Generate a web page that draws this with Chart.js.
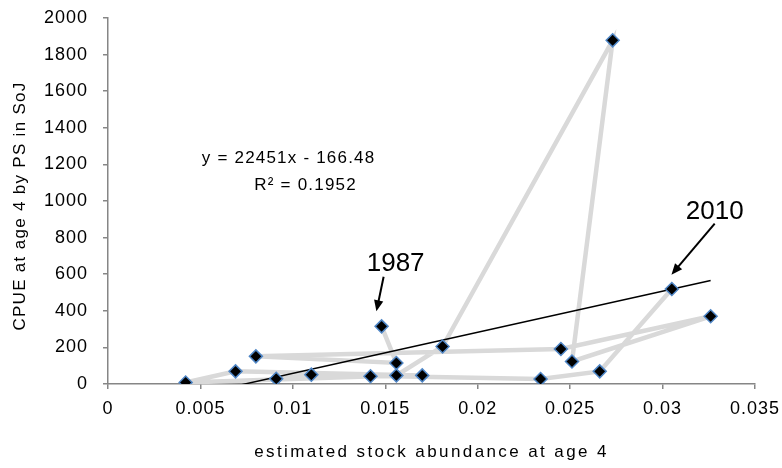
<!DOCTYPE html>
<html>
<head>
<meta charset="utf-8">
<script src="https://cdn.jsdelivr.net/npm/chart.js@4.4.1/dist/chart.umd.min.js"></script>
<style>
  html, body { margin: 0; padding: 0; background: #fff; }
  #wrap { width: 782px; height: 468px; position: relative; }
</style>
</head>
<body>
<div id="wrap"><canvas id="grafico"></canvas></div>
<script>
// pontos em ordem cronológica (1987 -> 2010)
const abundancia = [0.0148, 0.0156, 0.0080, 0.0245, 0.0326, 0.0251, 0.0273, 0.0181, 0.0156,
                    0.0042, 0.0069, 0.0170, 0.0142, 0.0091, 0.0110, 0.0234, 0.0266, 0.0305];
const cpue       = [315, 115, 151, 191, 370, 123, 1878, 205, 47,
                    8, 69, 47, 42, 29, 51, 27, 69, 519];

// linha de tendência (extremos)
const tendenciaX = [0.0042, 0.0326];
const tendenciaY = [-72, 566];

const ticksX = [0, 0.005, 0.01, 0.015, 0.02, 0.025, 0.03, 0.035];
const ticksY = [0, 200, 400, 600, 800, 1000, 1200, 1400, 1600, 1800, 2000];

const tituloX = 'estimated stock abundance at age 4';
const tituloY = 'CPUE at age 4 by PS in SoJ';
const equacao = ['y = 22451x - 166.48', 'R² = 0.1952'];
const rotulosAno = ['1987', '2010'];

const FONTE = "'Liberation Sans', Arial, sans-serif";

const pontos    = abundancia.map((x, i) => ({ x, y: cpue[i] }));
const tendencia = tendenciaX.map((x, i) => ({ x, y: tendenciaY[i] }));

// espaçamento entre letras para imitar a fonte do Excel
const espacamento = {
  id: 'espacamento',
  beforeLayout(chart) { chart.ctx.letterSpacing = '1px'; },
  beforeDraw(chart)   { chart.ctx.letterSpacing = '1px'; }
};

// títulos dos eixos, textos e setas
const anotacoes = {
  id: 'anotacoes',
  afterDraw(chart) {
    const { ctx, chartArea, scales: { x, y } } = chart;
    const px = v => x.getPixelForValue(v);
    const py = v => y.getPixelForValue(v);
    ctx.save();
    ctx.fillStyle = '#000';
    ctx.textAlign = 'center';
    ctx.textBaseline = 'middle';

    ctx.font = '17px ' + FONTE;
    ctx.letterSpacing = '2.4px';
    ctx.fillText(tituloX, (chartArea.left + chartArea.right) / 2, 452);
    ctx.save();
    ctx.translate(20, 206);
    ctx.rotate(-Math.PI / 2);
    ctx.letterSpacing = '1.3px';
    ctx.fillText(tituloY, 0, 0);
    ctx.restore();

    ctx.letterSpacing = '1.2px';
    ctx.font = '17px ' + FONTE;
    ctx.fillText(equacao[0], px(0.00977), py(1231));
    ctx.fillText(equacao[1], px(0.01069), py(1084));

    ctx.letterSpacing = '0px';
    ctx.font = '26px ' + FONTE;
    ctx.fillText(rotulosAno[0], px(0.01556), py(657));
    ctx.fillText(rotulosAno[1], px(0.03282), py(942));

    seta(ctx, px(0.01491), py(586), px(0.01452), py(397));
    seta(ctx, px(0.03282), py(876), px(0.03048), py(597));
    ctx.restore();
  }
};

function seta(ctx, x1, y1, x2, y2) {
  const ang = Math.atan2(y2 - y1, x2 - x1);
  const tam = 12;
  ctx.strokeStyle = '#000';
  ctx.lineWidth = 2;
  ctx.beginPath();
  ctx.moveTo(x1, y1);
  ctx.lineTo(x2 - Math.cos(ang) * tam * 0.8, y2 - Math.sin(ang) * tam * 0.8);
  ctx.stroke();
  ctx.fillStyle = '#000';
  ctx.beginPath();
  ctx.moveTo(x2, y2);
  ctx.lineTo(x2 - tam * Math.cos(ang - 0.4), y2 - tam * Math.sin(ang - 0.4));
  ctx.lineTo(x2 - tam * Math.cos(ang + 0.4), y2 - tam * Math.sin(ang + 0.4));
  ctx.closePath();
  ctx.fill();
}

const ctx = document.getElementById('grafico').getContext('2d');
new Chart(ctx, {
  type: 'scatter',
  data: {
    datasets: [
      {
        label: 'pontos',
        data: pontos,
        showLine: false,
        pointStyle: 'rectRot',
        pointRadius: 6.5,
        pointBackgroundColor: '#000',
        pointBorderColor: '#4f86c6',
        pointBorderWidth: 1.5,
      },
      {
        label: 'tendência',
        data: tendencia,
        showLine: true,
        borderColor: '#000',
        borderWidth: 1.5,
        pointRadius: 0,
      },
      {
        label: 'trajetória',
        data: pontos,
        showLine: true,
        borderColor: '#d9d9d9',
        borderWidth: 4.5,
        pointRadius: 0,
      }
    ]
  },
  options: {
    responsive: true,
    maintainAspectRatio: false,
    animation: false,
    layout: { padding: { left: 0, right: 27, top: 18, bottom: 0 } },
    plugins: {
      legend: { display: false },
      tooltip: { enabled: false }
    },
    scales: {
      x: {
        type: 'linear',
        min: 0,
        max: 0.035,
        afterBuildTicks(scale) { scale.ticks = ticksX.map(v => ({ value: v })); },
        afterFit(scale) {
          scale.height = 84;
          scale.paddingLeft = 0;
          scale.paddingRight = 0;
        },
        ticks: {
          color: '#000',
          padding: 9,
          font: { family: FONTE, size: 18 },
          callback: v => String(Number(v.toFixed(3)))
        },
        grid: { drawOnChartArea: false, drawTicks: true, tickLength: 5, color: '#868686', lineWidth: 1.5 },
        border: { color: '#868686', width: 1.5 }
      },
      y: {
        min: 0,
        max: 2000,
        afterBuildTicks(scale) { scale.ticks = ticksY.map(v => ({ value: v })); },
        afterFit(scale) {
          scale.width = 108;
          scale.paddingTop = 0;
          scale.paddingBottom = 0;
        },
        ticks: {
          color: '#000',
          padding: 15,
          font: { family: FONTE, size: 18 },
          callback: v => String(v)
        },
        grid: { drawOnChartArea: false, drawTicks: true, tickLength: 5, color: '#868686', lineWidth: 1.5 },
        border: { color: '#868686', width: 1.5 }
      }
    }
  },
  plugins: [espacamento, anotacoes]
});
</script>
</body>
</html>
